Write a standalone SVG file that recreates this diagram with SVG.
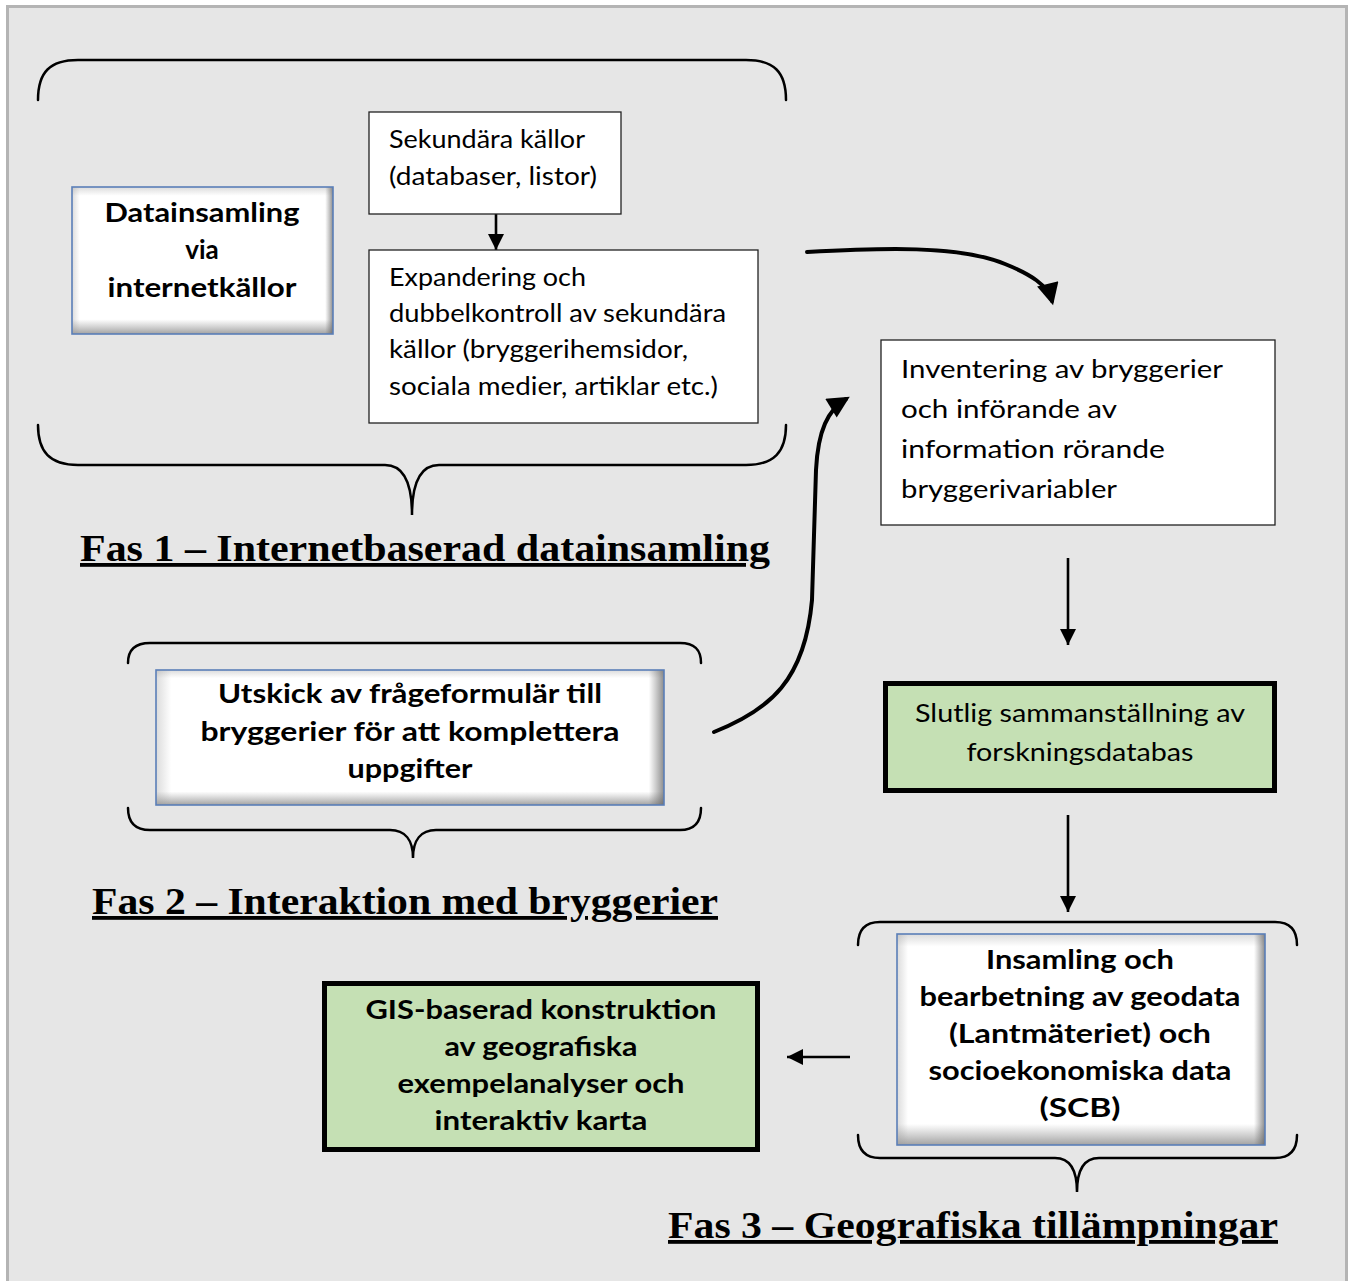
<svg xmlns="http://www.w3.org/2000/svg" width="1352" height="1281" viewBox="0 0 1352 1281">
<defs>
<style>
.bg{fill:#e6e6e6;stroke:#b4b4b4;stroke-width:3}
.brace{fill:none;stroke:#000;stroke-width:2.5;stroke-linecap:round}
.thin{fill:#fff;stroke:#222;stroke-width:1.3}
.green{fill:#c5e0b4;stroke:#000;stroke-width:5}
.bevel{fill:#fff}
.bevline{fill:none;stroke:#5b7fb8;stroke-width:1.6}
.t{font-family:Lato,"Open Sans","DejaVu Sans",sans-serif;font-size:25px;fill:#000}
.tb{font-family:Lato,"Open Sans","DejaVu Sans",sans-serif;font-size:26px;font-weight:bold;fill:#000;text-anchor:middle}
.tc{text-anchor:middle}
.h{font-family:"Liberation Serif","Times New Roman",serif;font-size:38px;font-weight:bold;fill:#000;text-decoration:underline}
.conn{fill:none;stroke:#000;stroke-width:2.6}
.curve{fill:none;stroke:#000;stroke-width:4;stroke-linecap:round}
</style>
<linearGradient id="gv" x1="0" y1="0" x2="0" y2="1">
<stop offset="0" stop-color="#9a9a9a" stop-opacity="0.35"/>
<stop offset="0.06" stop-color="#9a9a9a" stop-opacity="0"/>
<stop offset="0.9" stop-color="#8a8a8a" stop-opacity="0"/>
<stop offset="1" stop-color="#7a7a7a" stop-opacity="0.7"/>
</linearGradient>
<linearGradient id="gh" x1="0" y1="0" x2="1" y2="0">
<stop offset="0" stop-color="#9a9a9a" stop-opacity="0.35"/>
<stop offset="0.03" stop-color="#9a9a9a" stop-opacity="0"/>
<stop offset="0.97" stop-color="#6a6a6a" stop-opacity="0"/>
<stop offset="1" stop-color="#5a5a5a" stop-opacity="0.7"/>
</linearGradient>
<marker id="ah" viewBox="0 0 10 10" refX="10" refY="5" markerUnits="userSpaceOnUse" markerWidth="16" markerHeight="16" orient="auto">
<path d="M0,0 L10,5 L0,10 z" fill="#000"/>
</marker>
<marker id="ahc" viewBox="0 0 10 10" refX="8" refY="5" markerUnits="userSpaceOnUse" markerWidth="24" markerHeight="22" orient="auto">
<path d="M0,0 L10,5 L0,10 z" fill="#000"/>
</marker>
</defs>

<rect x="0" y="0" width="1352" height="1281" fill="#ffffff"/>
<rect class="bg" x="7.5" y="6.5" width="1339" height="1290"/>

<g id="braces">
<path class="brace" d="M38,100 C38,72 50,60 78,60 L746,60 C774,60 786,72 786,100"/>
<path class="brace" d="M38,425 C38,452 50,465 78,465 L385,465 C402,465 412,480 412,515 C412,480 422,465 439,465 L746,465 C774,465 786,452 786,425"/>
<path class="brace" d="M128,663 C128,650 135,643 150,643 L680,643 C695,643 701,650 701,663"/>
<path class="brace" d="M128,808 C128,822 135,830 150,830 L390,830 C405,830 413,840 413,858 C413,840 421,830 436,830 L680,830 C695,830 701,822 701,808"/>
<path class="brace" d="M858,945 C858,930 865,922 880,922 L1275,922 C1290,922 1297,930 1297,945"/>
<path class="brace" d="M858,1135 C858,1150 865,1158 880,1158 L1055,1158 C1070,1158 1077,1170 1077,1192 C1077,1170 1084,1158 1099,1158 L1275,1158 C1290,1158 1297,1150 1297,1135"/>
</g>

<g id="connectors">
<line class="conn" x1="496" y1="214" x2="496" y2="250" marker-end="url(#ah)"/>
<line class="conn" x1="1068" y1="558" x2="1068" y2="645" marker-end="url(#ah)"/>
<line class="conn" x1="1068" y1="815" x2="1068" y2="912" marker-end="url(#ah)"/>
<line class="conn" x1="850" y1="1057" x2="787" y2="1057" marker-end="url(#ah)"/>
<path class="curve" d="M807,252 C880,248 960,245 1005,264 C1030,274 1048,285 1052,301" marker-end="url(#ahc)"/>
<path class="curve" d="M714,732 C770,710 805,680 812,600 L816,470 C818,430 828,410 846,399" marker-end="url(#ahc)"/>
</g>

<g id="n-datainsamling">
<rect class="bevel" x="72" y="187" width="261" height="147"/>
<rect x="72" y="187" width="261" height="147" fill="url(#gv)"/>
<rect x="72" y="187" width="261" height="147" fill="url(#gh)"/>
<rect class="bevline" x="72" y="187" width="261" height="147"/>
<text class="tb" x="202" y="222" textLength="195" lengthAdjust="spacingAndGlyphs">Datainsamling</text>
<text class="tb" x="202" y="259">via</text>
<text class="tb" x="202" y="297" textLength="189" lengthAdjust="spacingAndGlyphs">internetkällor</text>
</g>

<g id="n-sekundara">
<rect class="thin" x="369" y="112" width="252" height="102"/>
<text class="t" x="389" y="148" textLength="196" lengthAdjust="spacingAndGlyphs">Sekundära källor</text>
<text class="t" x="389" y="185" textLength="208" lengthAdjust="spacingAndGlyphs">(databaser, listor)</text>
</g>

<g id="n-expandering">
<rect class="thin" x="369" y="250" width="389" height="173"/>
<text class="t" x="389" y="286" textLength="197" lengthAdjust="spacingAndGlyphs">Expandering och</text>
<text class="t" x="389" y="322" textLength="337" lengthAdjust="spacingAndGlyphs">dubbelkontroll av sekundära</text>
<text class="t" x="389" y="358" textLength="299" lengthAdjust="spacingAndGlyphs">källor (bryggerihemsidor,</text>
<text class="t" x="389" y="395" textLength="329" lengthAdjust="spacingAndGlyphs">sociala medier, artiklar etc.)</text>
</g>

<g id="n-inventering">
<rect class="thin" x="881" y="340" width="394" height="185"/>
<text class="t" x="901" y="378" font-size="27" textLength="322" lengthAdjust="spacingAndGlyphs">Inventering av bryggerier</text>
<text class="t" x="901" y="418" font-size="27" textLength="216" lengthAdjust="spacingAndGlyphs">och införande av</text>
<text class="t" x="901" y="458" font-size="27" textLength="264" lengthAdjust="spacingAndGlyphs">information rörande</text>
<text class="t" x="901" y="498" font-size="27" textLength="216" lengthAdjust="spacingAndGlyphs">bryggerivariabler</text>
</g>

<g id="n-slutlig">
<rect class="green" x="885.5" y="683.5" width="389" height="107"/>
<text class="t tc" x="1080" y="722" font-size="27" textLength="330" lengthAdjust="spacingAndGlyphs">Slutlig sammanställning av</text>
<text class="t tc" x="1080" y="761" font-size="27" textLength="227" lengthAdjust="spacingAndGlyphs">forskningsdatabas</text>
</g>

<g id="n-utskick">
<rect class="bevel" x="156" y="670" width="508" height="135"/>
<rect x="156" y="670" width="508" height="135" fill="url(#gv)"/>
<rect x="156" y="670" width="508" height="135" fill="url(#gh)"/>
<rect class="bevline" x="156" y="670" width="508" height="135"/>
<text class="tb" x="410" y="703" textLength="384" lengthAdjust="spacingAndGlyphs">Utskick av frågeformulär till</text>
<text class="tb" x="410" y="741" textLength="419" lengthAdjust="spacingAndGlyphs">bryggerier för att komplettera</text>
<text class="tb" x="410" y="778" textLength="125" lengthAdjust="spacingAndGlyphs">uppgifter</text>
</g>

<g id="n-insamling">
<rect class="bevel" x="897" y="934" width="368" height="211"/>
<rect x="897" y="934" width="368" height="211" fill="url(#gv)"/>
<rect x="897" y="934" width="368" height="211" fill="url(#gh)"/>
<rect class="bevline" x="897" y="934" width="368" height="211"/>
<text class="tb" x="1080" y="969" textLength="188" lengthAdjust="spacingAndGlyphs">Insamling och</text>
<text class="tb" x="1080" y="1006" textLength="321" lengthAdjust="spacingAndGlyphs">bearbetning av geodata</text>
<text class="tb" x="1080" y="1043" textLength="262" lengthAdjust="spacingAndGlyphs">(Lantmäteriet) och</text>
<text class="tb" x="1080" y="1080" textLength="303" lengthAdjust="spacingAndGlyphs">socioekonomiska data</text>
<text class="tb" x="1080" y="1117" textLength="81" lengthAdjust="spacingAndGlyphs">(SCB)</text>
</g>

<g id="n-gis">
<rect class="green" x="324.5" y="983.5" width="433" height="166"/>
<text class="tb" x="541" y="1019" textLength="351" lengthAdjust="spacingAndGlyphs">GIS-baserad konstruktion</text>
<text class="tb" x="541" y="1056" textLength="193" lengthAdjust="spacingAndGlyphs">av geografiska</text>
<text class="tb" x="541" y="1093" textLength="287" lengthAdjust="spacingAndGlyphs">exempelanalyser och</text>
<text class="tb" x="541" y="1130" textLength="213" lengthAdjust="spacingAndGlyphs">interaktiv karta</text>
</g>

<g id="headings">
<text class="h" x="80" y="561" textLength="690" lengthAdjust="spacingAndGlyphs">Fas 1 – Internetbaserad datainsamling</text>
<text class="h" x="92" y="914" textLength="626" lengthAdjust="spacingAndGlyphs">Fas 2 – Interaktion med bryggerier</text>
<text class="h" x="668" y="1238" textLength="610" lengthAdjust="spacingAndGlyphs">Fas 3 – Geografiska tillämpningar</text>
</g>
</svg>
